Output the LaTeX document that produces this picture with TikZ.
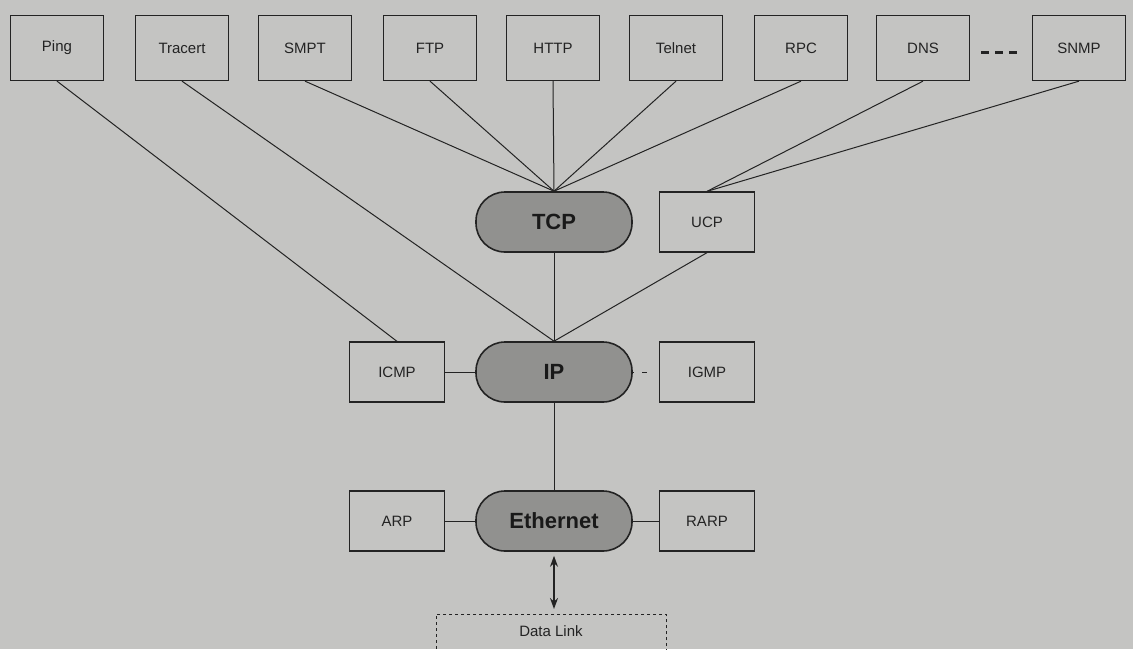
\documentclass[tikz,border=0pt]{standalone}
\usepackage{fontspec}
\setmainfont{Liberation Sans}
\usetikzlibrary{arrows.meta}
\definecolor{paper}{RGB}{196,196,194}
\definecolor{pillgray}{RGB}{145,145,143}
\definecolor{ink}{RGB}{35,35,35}
\tikzset{
  proto/.style={draw=ink, line width=1.3pt, minimum width=93pt, minimum height=65pt, inner sep=0pt, font=\fontsize{15}{17}\selectfont, text=ink},
  midbox/.style={draw=ink, line width=1.3pt, minimum width=95pt, minimum height=60pt, inner sep=0pt, font=\fontsize{15}{17}\selectfont, text=ink},
  pill/.style={draw=ink, line width=1.6pt, fill=pillgray, rounded corners=29pt, minimum width=156pt, minimum height=60pt, inner sep=0pt, font=\fontsize{22}{24}\selectfont\bfseries, text=black!90},
  link/.style={draw=ink, line width=1pt},
}
\begin{document}
\begin{tikzpicture}[x=1pt,y=-1pt]
\useasboundingbox (0,0) rectangle (1133,649);
\clip (0,0) rectangle (1133,649);
\fill[paper] (0,0) rectangle (1133,649);

% top row
\node[proto] (ping)   at (57,48)   {Ping};
\node[proto] (tracert) at (182,48) {Tracert};
\node[proto] (smpt)   at (305,48)  {SMPT};
\node[proto] (ftp)    at (430,48)  {FTP};
\node[proto] (http)   at (553,48)  {HTTP};
\node[proto] (telnet) at (676,48)  {Telnet};
\node[proto] (rpc)    at (801,48)  {RPC};
\node[proto] (dns)    at (923,48)  {DNS};
\node[proto] (snmp)   at (1079,48) {SNMP};

% middle layers
\node[pill]   (tcp)  at (554,222) {TCP};
\node[midbox] (ucp)  at (707,222) {UCP};
\node[pill]   (ip)   at (554,372) {IP};
\node[midbox] (icmp) at (397,372) {ICMP};
\node[midbox] (igmp) at (707,372) {IGMP};
\node[pill]   (eth)  at (554,521) {Ethernet};
\node[midbox] (arp)  at (397,521) {ARP};
\node[midbox] (rarp) at (707,521) {RARP};

% data link
\node[draw=ink, dashed, line width=0.7pt, minimum width=230pt, minimum height=60pt, anchor=north, inner sep=0pt] (dl) at (551,614) {};
\node[font=\fontsize{15}{17}\selectfont, text=ink] (dltext) at (551,631) {Data Link};

% connectors
\draw[link] (ping.south) -- (icmp.north);
\draw[link] (tracert.south) -- (ip.north);
\draw[link] (smpt.south) -- (tcp.north);
\draw[link] (ftp.south) -- (tcp.north);
\draw[link] (http.south) -- (tcp.north);
\draw[link] (telnet.south) -- (tcp.north);
\draw[link] (rpc.south) -- (tcp.north);
\draw[link] (dns.south) -- (ucp.north);
\draw[link] (snmp.south) -- (ucp.north);
\draw[link] (tcp.south) -- (ip.north);
\draw[link] (ucp.south) -- (ip.north);
\draw[link] (icmp.east) -- (ip.west);
\draw[link, dash pattern=on 1.5pt off 8pt on 5pt off 20pt] (ip.east) -- (igmp.west);
\draw[link] (ip.south) -- (eth.north);
\draw[link] (arp.east) -- (eth.west);
\draw[link] (eth.east) -- (rarp.west);
\draw[ink, line width=1.3pt, {Stealth[length=11pt,width=8pt]}-{Stealth[length=11pt,width=8pt]}, shorten <=4pt, shorten >=5pt] (eth.south) -- (eth.south |- dl.north);

% ellipsis between DNS and SNMP
\draw[ink, line width=3pt, dash pattern=on 8pt off 6pt] ([xshift=11pt,yshift=-4pt]dns.east) -- ([xshift=-11pt,yshift=-4pt]snmp.west);
\end{tikzpicture}
\end{document}
